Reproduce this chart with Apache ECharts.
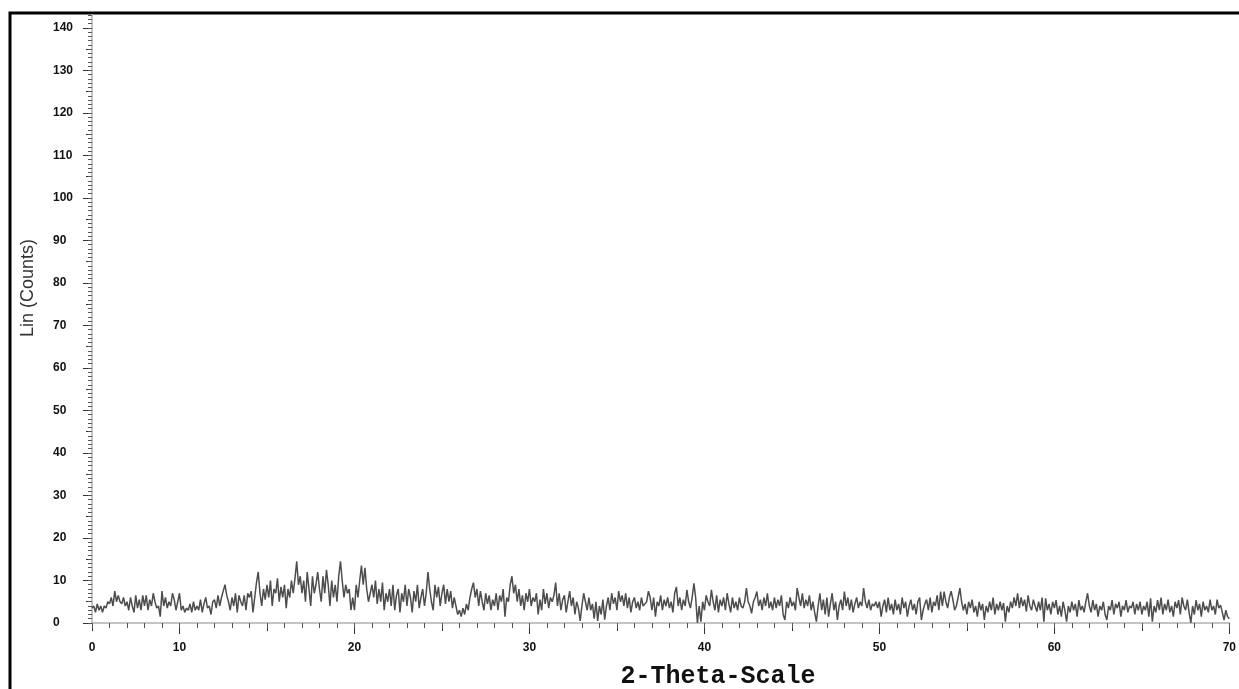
<!DOCTYPE html>
<html>
<head>
<meta charset="utf-8">
<script src="https://cdn.jsdelivr.net/npm/echarts@6/dist/echarts.min.js"></script>
<style>html,body{margin:0;padding:0;background:#fff;}#c{width:1239px;height:689px;}</style>
</head>
<body>
<div id="c"></div>
<script>
// 2-Theta scan: start, step, and counts
var thetaStart = 5;
var thetaStep = 0.1;
var counts = [
3.5,4,2.5,4.5,3,4,2.5,4,3.5,5,
4.5,6,4,7.5,5,6.5,5,4.5,6,4,
5,3,6,4,2.5,6.5,3.5,5.5,3,6.5,
4,6.5,3,5.5,4,7,5,3.5,4,1.5,
7.5,4,6,3.5,5,4,7,5.5,3,5,
7,3,4,2.5,3.5,3,4.5,2.5,5,3,
4,3,5.5,2.5,4.5,6,3.5,4,2,5,
5.5,3.5,6.5,4,6,7.5,9,6.5,5,3,
6,4,7,2.5,6.5,5,4,6.5,3,7,
6,7.5,2.5,6,9.5,12,7,4,8,5.5,
9,6,10,4,8,7,10.5,5,8.5,6,
9,3.5,8,6,10,7,10.5,14.5,9,11,
7,10,5,12,8,4,11,7,9,12,
8,5,11,7,12.5,9,4,10,6,9,
5,11,14.5,10,6,9,7,8,3,6,
3,9,6,10,13.5,9,13,8,5,7,
9,6,10,4.5,8,5,9.5,3,7,5,
8,4,9,3,6.5,8,2.5,7,5,9,
4,8,6,2.5,7.5,5,9,3.5,6,8,
4,7,12,8,5,3,9,6,8.5,4,
7,9,4.5,8,5,7.5,3.5,6,4,2,
3,1.5,3.5,2,4.5,3,6,8,9.5,6,
8,4,7.5,5,3,7,4.5,6.5,3,5.5,
4,7,3,6.5,5,8,1.5,6,5,9,
11,7,9,5,8,4,6.5,3,7,5,
8,4,6,5,7,2,5.5,3,8,4.5,
7,3.5,6,5,6.5,9.5,4,7,3,5.5,
6.5,2.5,5,7.5,4,6,2,5,3.5,0.5,
4,7,5,3,6,3,4.5,1,5,0.5,
4,2,5.5,0.8,4,6,3,7,4.5,6,
3,7.5,5,6.5,4,7,3.5,6,2.5,5,
6,3.5,5,3,6,4,4.5,5,7.5,6,
3,6,1.5,5,4,6.5,3,5.5,4,6,
3.5,5,2.5,7,8.5,4,6,3,5.5,4,
7.8,5,3.5,6,9.3,6,0,4,0.3,5,
3,6.5,5,4,7.8,5,3,6.5,2.5,5.5,
4,6,3,7,4.5,2.5,6,3.5,5,3,
6,4,3.5,5,8.2,5,4,2.3,5,6,
7.4,4,5.5,3,6,4,7,3.5,5,3,
6,3.5,5.5,4,6.5,2,0.7,5,3.5,6,
4,5,3,8.2,6,4,7,3.5,5.5,4,
6.5,3,5,2.5,0.3,4,7,3,5.5,2,
6,1.5,4.5,7,3,5,0.7,4,5.5,3,
7.4,4,6,3,5.5,2.5,4.5,6,3.5,5,
4,8.2,5,3.5,5.5,3,4.5,4,5,3.5,
5,1.5,4,5.5,2.5,6,3,4.5,2,5.5,
3,4.5,2,6,3.5,5,1.5,4,5.5,3,
4.5,2,5,6,0.7,3,4.5,5.5,3,6,
2.5,5,4,6.5,3,7.4,4,7.4,5,3.5,
6,7.5,5.5,3,4,6,8.2,5,3,4.5,
2,5,3.5,5.5,2.5,4,1.5,5,3,4.5,
0.7,4,2.5,5,3,6,2,4.5,3,5,
3,4.7,0.3,4,2.5,5,3.5,6,4,7,
3.5,6,4,5.5,2.7,6.5,4,3,5.5,4,
2.7,5,3,6,0.3,5.8,3,4.5,2,5,
3.5,5.4,2,4,1.5,5,3,0.3,4,2.5,
5,3,4.5,1.5,5.4,3,4,2.5,5,7,
4,2.5,5.4,3,4.5,1.5,4,3,5,2,
0.7,4,3,5.4,2,4.5,3.5,5,1.5,4,
3,5.4,2.5,4,3.5,5,2,4.5,3,5,
2,4,3,5,1.5,5.8,0.3,4,2.5,5.4,
3,6,2,4.5,3,5.5,2.5,4,1.5,5,
3.5,5.4,2,6,4,3,5.5,2.5,0,4,
2,5.4,3,4.5,1.5,5,3,4,2.5,5.5,
3,4,2,5.5,3.5,4.2,2.5,0.7,3,1.5,
1
];
// Tick labels
var xLabelValues = [5, 10, 20, 30, 40, 50, 60, 70];
var xLabelTexts = ['0', '10', '20', '30', '40', '50', '60', '70'];
var xMajorTicks = [10, 20, 30, 40, 50, 60, 70];
var xMidTicks = [5, 15, 25, 35, 45, 55, 65];
var yLabelValues = [0, 10, 20, 30, 40, 50, 60, 70, 80, 90, 100, 110, 120, 130, 140];
var yMidTicks = [5, 15, 25, 35, 45, 55, 65, 75, 85, 95, 105, 115, 125, 135];
var xTitle = '2-Theta-Scale';
var yTitle = 'Lin (Counts)';

var points = counts.map(function (c, i) {
  return [Math.round((thetaStart + i * thetaStep) * 100) / 100, c];
});

var chart = echarts.init(document.getElementById('c'), null, {renderer: 'canvas'});
var tickColor = '#333';
var lblFont = {fontFamily: 'Liberation Sans', fontSize: 12, fontWeight: 'bold', color: '#111'};

function xOverlay(extra) {
  return Object.assign({
    type: 'value', min: 5, max: 70, position: 'bottom', offset: 0,
    axisLine: {show: false}, axisLabel: {show: false}, splitLine: {show: false}
  }, extra);
}
function yOverlay(extra) {
  return Object.assign({
    type: 'value', min: 0, max: 143, position: 'left', offset: 0,
    axisLine: {show: false}, axisLabel: {show: false}, splitLine: {show: false}
  }, extra);
}

chart.setOption({
  animation: false,
  backgroundColor: '#fff',
  grid: {left: 92, right: 3, top: 15, bottom: 66, containLabel: false},
  xAxis: [
    {
      type: 'value', min: 5, max: 70, position: 'bottom',
      axisLine: {show: true, lineStyle: {color: '#c4c4c4', width: 2}},
      splitLine: {show: false},
      axisTick: {show: true, customValues: xMajorTicks, length: 11, lineStyle: {color: tickColor, width: 1}},
      axisLabel: Object.assign({
        customValues: xLabelValues, margin: 19, hideOverlap: false,
        formatter: function (v) { var k = xLabelValues.indexOf(v); return k >= 0 ? xLabelTexts[k] : ''; }
      }, lblFont)
    },
    xOverlay({axisTick: {show: true, customValues: xMidTicks, length: 8, lineStyle: {color: tickColor}}}),
    xOverlay({interval: 1, axisTick: {show: true, length: 5, lineStyle: {color: '#555'}}})
  ],
  yAxis: [
    {
      type: 'value', min: 0, max: 143, position: 'left',
      axisLine: {show: true, lineStyle: {color: '#c4c4c4', width: 2}},
      splitLine: {show: false},
      axisTick: {show: true, customValues: yLabelValues, length: 9, lineStyle: {color: tickColor}},
      axisLabel: Object.assign({customValues: yLabelValues, margin: 39, align: 'left'}, lblFont)
    },
    yOverlay({axisTick: {show: true, customValues: yMidTicks, length: 6, lineStyle: {color: tickColor}}}),
    yOverlay({interval: 1, axisTick: {show: true, length: 4, lineStyle: {color: '#555'}}})
  ],
  series: [{
    type: 'line', xAxisIndex: 0, yAxisIndex: 0, data: points,
    showSymbol: false, symbol: 'none', sampling: false,
    lineStyle: {color: '#4d4d4d', width: 1.5}
  }],
  graphic: [
    {type: 'rect', shape: {x: 10, y: 13, width: 1400, height: 900}, style: {fill: null, stroke: '#000', lineWidth: 3}, silent: true},
    {type: 'text', x: 718, y: 677, style: {text: xTitle, font: 'bold 25px "Liberation Mono"', fill: '#111', align: 'center', verticalAlign: 'middle'}},
    {type: 'text', x: 28, y: 288, rotation: Math.PI / 2, style: {text: yTitle, font: '18px "Liberation Sans"', fill: '#333', align: 'center', verticalAlign: 'middle'}}
  ]
});
</script>
</body>
</html>
